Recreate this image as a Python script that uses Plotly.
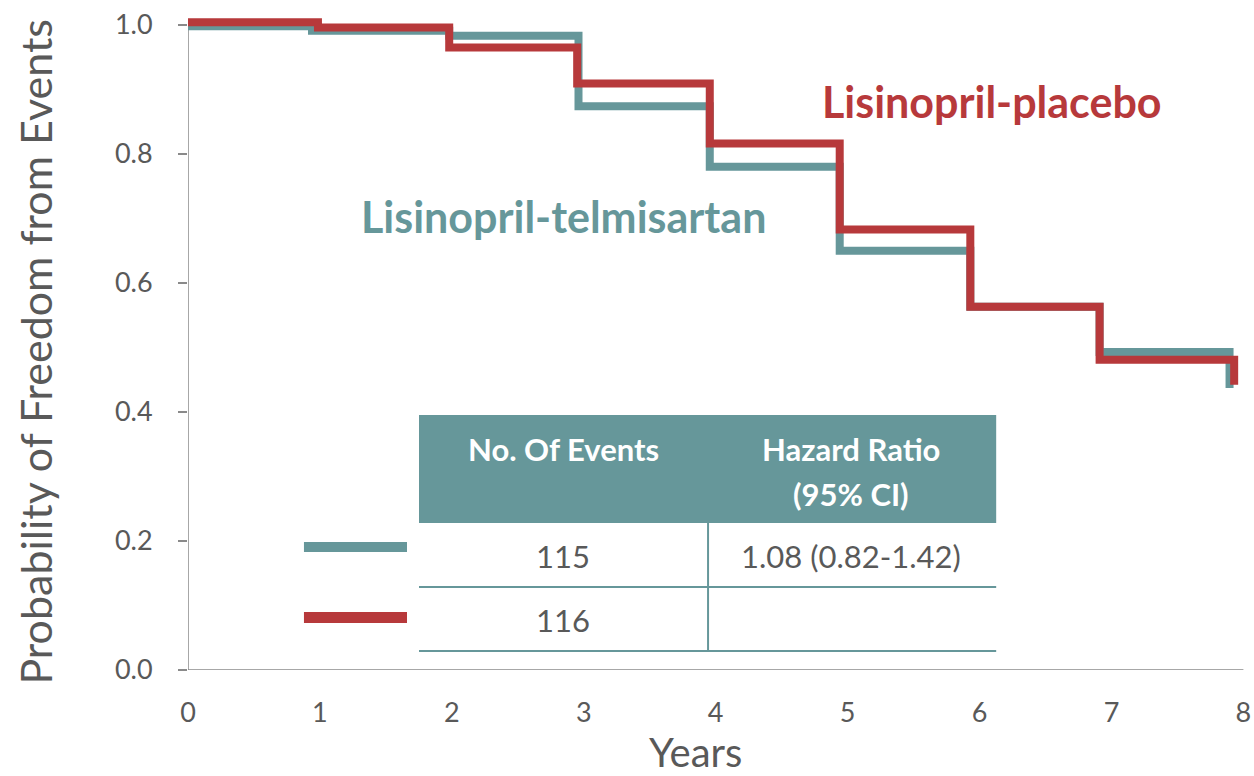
import plotly.graph_objects as go

# Kaplan-Meier style step curves: freedom from events by treatment arm
telmi_years = [0, 0.94, 1.98, 2.96, 3.955, 4.94, 5.93, 6.91, 7.895]
telmi_surv = [0.998, 0.991, 0.983, 0.874, 0.780, 0.650, 0.563, 0.493, 0.437]

placebo_years = [0, 0.985, 1.98, 2.95, 3.955, 4.94, 5.93, 6.91, 7.93]
placebo_surv = [1.004, 0.996, 0.965, 0.909, 0.816, 0.683, 0.563, 0.481, 0.442]

arm_names = ["Lisinopril-telmisartan", "Lisinopril-placebo"]
event_counts = ["115", "116"]
hazard_ratio = "1.08 (0.82-1.42)"
table_headers = ["No. Of Events", "Hazard Ratio", "(95% CI)"]

x_ticks = [0, 1, 2, 3, 4, 5, 6, 7, 8]
y_ticks = [0.0, 0.2, 0.4, 0.6, 0.8, 1.0]

TEAL = "#66979a"
RED = "#b7393b"
GREY = "#595959"
AXIS = "#8a8a8a"
FONT = "Lato"

fig = go.Figure()
fig.add_trace(go.Scatter(x=telmi_years, y=telmi_surv, mode="lines",
                         line=dict(color=TEAL, width=8, shape="hv"),
                         name=arm_names[0], hoverinfo="skip"))
fig.add_trace(go.Scatter(x=placebo_years, y=placebo_surv, mode="lines",
                         line=dict(color=RED, width=8, shape="hv"),
                         name=arm_names[1], hoverinfo="skip"))

shapes = []
# axis lines
shapes.append(dict(type="line", xref="x", yref="y", x0=0, x1=0, y0=0, y1=1.0,
                   line=dict(color=AXIS, width=1.5), layer="below"))
shapes.append(dict(type="line", xref="x", yref="y", x0=0, x1=8, y0=0, y1=0,
                   line=dict(color=AXIS, width=1.5), layer="below"))

# results table
tx0, tmid, tx1 = 1.751, 3.942, 6.126
shapes.append(dict(type="rect", xref="x", yref="y", x0=tx0, x1=tx1, y0=0.2279, y1=0.3953,
                   fillcolor=TEAL, line=dict(width=0), layer="above"))
shapes.append(dict(type="line", xref="x", yref="y", x0=tmid, x1=tmid, y0=0.0295, y1=0.2279,
                   line=dict(color=TEAL, width=2)))
for yy in (0.1287, 0.0295):
    shapes.append(dict(type="line", xref="x", yref="y", x0=tx0, x1=tx1, y0=yy, y1=yy,
                       line=dict(color=TEAL, width=2)))
# legend swatches beside the table rows
shapes.append(dict(type="rect", xref="x", yref="y", x0=0.879, x1=1.660, y0=0.1829, y1=0.1984,
                   fillcolor=TEAL, line=dict(width=0)))
shapes.append(dict(type="rect", xref="x", yref="y", x0=0.879, x1=1.660, y0=0.0729, y1=0.0899,
                   fillcolor=RED, line=dict(width=0)))


def label(x, y, text, size, color, bold=False, ref="x", **kw):
    return dict(x=x, y=y, xref=ref, yref=ref.replace("x", "y"),
                text=f"<b>{text}</b>" if bold else text,
                xanchor="center", yanchor="middle", showarrow=False,
                font=dict(family=FONT, size=size, color=color), **kw)


annotations = [
    label(2.843, 0.7023, arm_names[0], 43, TEAL, bold=True),
    label(6.096, 0.8806, arm_names[1], 43, RED, bold=True),
    label(2.843, 0.3426, table_headers[0], 31, "white", bold=True),
    label(5.027, 0.3426, table_headers[1], 31, "white", bold=True),
    label(5.027, 0.2729, table_headers[2], 31, "white", bold=True),
    label(2.843, 0.1767, event_counts[0], 31, GREY),
    label(5.027, 0.1767, hazard_ratio, 31, GREY),
    label(2.843, 0.0775, event_counts[1], 31, GREY),
    label(-0.144, 0.484, "Probability of Freedom from Events", 43, GREY, ref="paper",
          textangle=-90),
    label(0.478, -0.125, "Years", 40, GREY, ref="paper"),
]

fig.update_layout(
    width=1254, height=776,
    margin=dict(l=188, r=4, t=12, b=106),
    paper_bgcolor="white", plot_bgcolor="white",
    showlegend=False,
    shapes=shapes,
    annotations=annotations,
    xaxis=dict(range=[0, 8.05], tickvals=x_ticks, ticktext=[str(v) for v in x_ticks],
               showgrid=False, zeroline=False, showline=False, ticks="",
               ticklabelstandoff=24,
               tickfont=dict(family=FONT, size=27, color=GREY)),
    yaxis=dict(range=[0, 1.02], tickvals=y_ticks, ticktext=[f"{v:.1f}" for v in y_ticks],
               showgrid=False, zeroline=False, showline=False,
               ticks="outside", ticklen=9, tickcolor=AXIS, tickwidth=1.5,
               ticklabelstandoff=20,
               tickfont=dict(family=FONT, size=27, color=GREY)),
)

fig.write_html("out.html")
